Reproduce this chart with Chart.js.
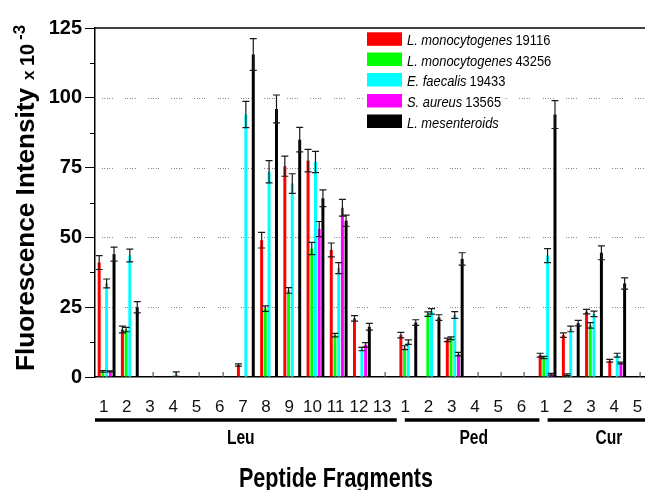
<!DOCTYPE html>
<html>
<head>
<meta charset="utf-8">
<script src="https://cdn.jsdelivr.net/npm/chart.js@4.4.1/dist/chart.umd.min.js"></script>
<style>
  html, body { margin: 0; padding: 0; background: #fff; overflow: hidden; }
  #wrap { width: 660px; height: 490px; }
</style>
</head>
<body>
<div id="wrap"><canvas id="chart" width="660" height="490"></canvas></div>
<script>
// Categorías del eje x (fragmentos de cada péptido)
const categorias = ['1','2','3','4','5','6','7','8','9','10','11','12','13',
                    '1','2','3','4','5','6',
                    '1','2','3','4','5'];
const grupos = ['Leu', 'Ped', 'Cur'];
const ticksY = [0, 25, 50, 75, 100, 125];

// Intensidad de fluorescencia (x10^-3) y su error, por cepa
const lm19116    = [41, 17, 0, 0, 0, 0, 4.3, 49, 75.5, 77.5, 45.5, 21, 0, 15, 0, 13.3, 0, 0, 0, 7.8, 15, 23.4, 5.8, 0];
const lm19116Err = [2.5, 1.2, 0, 0, 0, 0, 0.4, 2.8, 3.6, 4, 2.5, 1, 0, 1, 0, 0.6, 0, 0, 0, 0.7, 0.8, 0.8, 0.5, 0];
const lm43256    = [2, 17, 0, 0, 0, 0, 0, 24.5, 31, 46, 15, 0, 0, 10.5, 22.5, 13.9, 0, 0, 0, 7, 0.8, 18.5, 0, 0];
const lm43256Err = [0.3, 0.8, 0, 0, 0, 0, 0, 1, 1, 2.2, 0.6, 0, 0, 0.7, 0.8, 0.5, 0, 0, 0, 0.4, 0.3, 1, 0, 0];
const ef19433    = [33.5, 43.5, 0, 1, 0, 0, 94, 73.5, 69.3, 77, 39, 10, 0, 12.5, 23.5, 22.2, 0, 0, 0, 43.5, 17.2, 22.6, 7.8, 0];
const ef19433Err = [1.6, 2.3, 0, 0.8, 0, 0, 4.7, 4, 3.5, 3.8, 2, 0.6, 0, 0.8, 1, 1.2, 0, 0, 0, 2.5, 1, 1, 0.7, 0];
const sa13565    = [2, 0, 0, 0, 0, 0, 0, 0, 0, 53, 60.6, 11.5, 0, 0, 0, 8.2, 0, 0, 0, 1, 0, 0, 5, 0];
const sa13565Err = [0.2, 0, 0, 0, 0, 0, 0, 0, 0, 2.7, 3, 0.8, 0, 0, 0, 0.6, 0, 0, 0, 0.3, 0, 0, 0.3, 0];
const lmes       = [44, 25, 0, 0, 0, 0, 115.5, 96, 85, 64, 56, 18, 0, 19.5, 21.3, 42.3, 0, 0, 0, 94, 19.3, 44.5, 33.5, 0];
const lmesErr    = [2.5, 2, 0, 0, 0, 0, 5.7, 5, 4.4, 3, 2, 1.2, 0, 1, 1, 2.2, 0, 0, 0, 5, 1, 2.5, 2, 0];

// Leyenda: parte en cursiva + número de cepa
const especies = ['L. monocytogenes', 'L. monocytogenes', 'E. faecalis', 'S. aureus', 'L. mesenteroids'];
const cepas = ['19116', '43256', '19433', '13565', ''];
const colores = ['#ff0000', '#00ff00', '#00ffff', '#ff00ff', '#000000'];

const FAM = '"Liberation Sans", Arial, sans-serif';

const series = [lm19116, lm43256, ef19433, sa13565, lmes];
const errores = [lm19116Err, lm43256Err, ef19433Err, sa13565Err, lmesErr];

// texto comprimido horizontalmente hasta un ancho dado
function textoAncho(ctx, txt, x, y, font, ancho) {
  ctx.save();
  ctx.font = font;
  const w = ctx.measureText(txt).width;
  const k = ancho / w;
  ctx.translate(x, y);
  ctx.scale(k, 1);
  ctx.fillText(txt, 0, 0);
  ctx.restore();
}
function textoEscala(ctx, txt, x, y, font, k) {
  ctx.save();
  ctx.font = font;
  ctx.translate(x, y);
  ctx.scale(k, 1);
  ctx.fillText(txt, 0, 0);
  const w = ctx.measureText(txt).width * k;
  ctx.restore();
  return w;
}

// Rejilla punteada, ticks menores y borde superior
const fondo = {
  id: 'fondo',
  beforeDatasetsDraw(chart) {
    const { ctx, chartArea: a, scales: { x, y } } = chart;
    ctx.save();
    ctx.fillStyle = '#8a8a8a';
    [25, 50, 75, 100].forEach(v => {
      const py = Math.round(y.getPixelForValue(v));
      categorias.forEach((c, i) => {
        const cx = x.getPixelForValue(i);
        for (let d = -5; d <= 6; d += 2.5) ctx.fillRect(Math.round(cx + d), py, 1, 1);
      });
    });
    // ticks interiores del eje x
    ctx.fillStyle = '#555';
    categorias.forEach((c, i) => {
      const cx = Math.round(x.getPixelForValue(i));
      ctx.fillRect(cx - 0.5, a.bottom - 5, 1.2, 5);
    });
    // ticks menores del eje y
    ctx.strokeStyle = '#000';
    ctx.lineWidth = 1;
    for (let v = 12.5; v < 125; v += 25) {
      const py = Math.round(y.getPixelForValue(v)) + 0.5;
      ctx.beginPath();
      ctx.moveTo(a.left - 5, py);
      ctx.lineTo(a.left, py);
      ctx.stroke();
    }
    // borde superior
    ctx.lineWidth = 1.5;
    ctx.beginPath();
    ctx.moveTo(a.left, a.top);
    ctx.lineTo(chart.width, a.top);
    ctx.stroke();
    ctx.restore();
  }
};

// Barras de error
const barrasError = {
  id: 'barrasError',
  afterDatasetsDraw(chart) {
    const { ctx, scales: { y } } = chart;
    ctx.save();
    ctx.strokeStyle = '#1a1a1a';
    ctx.lineWidth = 1.2;
    chart.data.datasets.forEach((ds, i) => {
      const meta = chart.getDatasetMeta(i);
      ds.errores.forEach((e, j) => {
        if (!e) return;
        const v = ds.data[j];
        const px = meta.data[j].x;
        const y1 = y.getPixelForValue(v + e);
        const y2 = y.getPixelForValue(Math.max(0, v - e));
        ctx.beginPath();
        ctx.moveTo(px, y1); ctx.lineTo(px, y2);
        ctx.moveTo(px - 3.5, y1); ctx.lineTo(px + 3.5, y1);
        ctx.moveTo(px - 3.5, y2); ctx.lineTo(px + 3.5, y2);
        ctx.stroke();
      });
    });
    ctx.restore();
  }
};

// Títulos, grupos y leyenda
const adornos = {
  id: 'adornos',
  afterDraw(chart) {
    const { ctx, scales: { x } } = chart;
    const x0 = x.getPixelForValue(0);
    const paso = x.getPixelForValue(1) - x0;
    const px = i => x0 + i * paso;
    ctx.save();
    ctx.fillStyle = '#000';
    ctx.strokeStyle = '#000';

    // llaves de grupo
    const tramos = [[-0.5, 12.5], [12.85, 18.65], [19.0, 24.2]];
    const centros = [5.78, 15.82, 21.64];
    ctx.lineWidth = 3.5;
    tramos.forEach(t => {
      ctx.beginPath();
      ctx.moveTo(px(t[0]), 420);
      ctx.lineTo(px(t[1]), 420);
      ctx.stroke();
    });
    ctx.textAlign = 'left';
    ctx.textBaseline = 'alphabetic';
    grupos.forEach((g, i) => {
      ctx.font = 'bold 20px ' + FAM;
      const w = ctx.measureText(g).width * 0.78;
      textoEscala(ctx, g, px(centros[i]) - w / 2, 444, 'bold 20px ' + FAM, 0.78);
    });

    // título eje x
    textoAncho(ctx, 'Peptide Fragments', 239, 487, 'bold 28px ' + FAM, 194);

    // título eje y, rotado
    ctx.save();
    ctx.translate(34, 371);
    ctx.rotate(-Math.PI / 2);
    textoAncho(ctx, 'Fluorescence Intensity', 0, 0, 'bold 26px ' + FAM, 283);
    ctx.font = 'bold 17px ' + FAM;
    ctx.fillText('x', 291, 0);
    ctx.font = 'bold 20px ' + FAM;
    ctx.fillText('10', 305, 0);
    ctx.font = 'bold 17px ' + FAM;
    ctx.fillText('-3', 331, -9);
    ctx.restore();

    // leyenda
    const filas = [32.3, 52.5, 73, 94, 114.5];
    especies.forEach((s, i) => {
      const top = filas[i];
      ctx.font = 'italic 15px ' + FAM;
      let w = ctx.measureText(s + ' ').width * 0.86;
      ctx.font = '15px ' + FAM;
      w += ctx.measureText(cepas[i]).width * 0.86;
      ctx.fillStyle = '#fff';
      ctx.fillRect(364, top - 3, 406 - 364 + w + 4, 20);
      ctx.fillStyle = colores[i];
      ctx.fillRect(367, top, 35, 13.5);
      ctx.fillStyle = '#000';
      const wi = textoEscala(ctx, s, 407, top + 13, 'italic 15px ' + FAM, 0.86);
      if (cepas[i]) textoEscala(ctx, cepas[i], 407 + wi + 3, top + 13, '15px ' + FAM, 0.86);
    });
    ctx.restore();
  }
};

const datasets = series.map((d, i) => ({
  label: especies[i] + ' ' + cepas[i],
  data: d,
  errores: errores[i],
  backgroundColor: colores[i],
  borderWidth: 0,
  categoryPercentage: 0.8,
  barPercentage: 0.8
}));

new Chart(document.getElementById('chart').getContext('2d'), {
  type: 'bar',
  data: { labels: categorias, datasets: datasets },
  options: {
    responsive: false,
    animation: false,
    layout: { padding: { top: 28, right: 8, left: 0, bottom: 0 } },
    plugins: { legend: { display: false }, tooltip: { enabled: false } },
    scales: {
      x: {
        grid: { display: false },
        border: { display: true, color: '#000', width: 1.5 },
        ticks: {
          color: '#111', font: { family: FAM, size: 17 },
          padding: 12, labelOffset: -3, autoSkip: false, maxRotation: 0
        },
        afterFit: s => { s.height = 113; }
      },
      y: {
        min: 0, max: 125,
        afterBuildTicks: s => { s.ticks = ticksY.map(v => ({ value: v })); },
        ticks: { color: '#000', font: { family: FAM, size: 20, weight: 'bold' }, padding: 3 },
        grid: { drawOnChartArea: false, drawTicks: true, tickLength: 10, tickColor: '#000' },
        border: { color: '#000', width: 1.5 },
        afterFit: s => { s.width = 95; }
      }
    }
  },
  plugins: [fondo, barrasError, adornos]
});
</script>
</body>
</html>
